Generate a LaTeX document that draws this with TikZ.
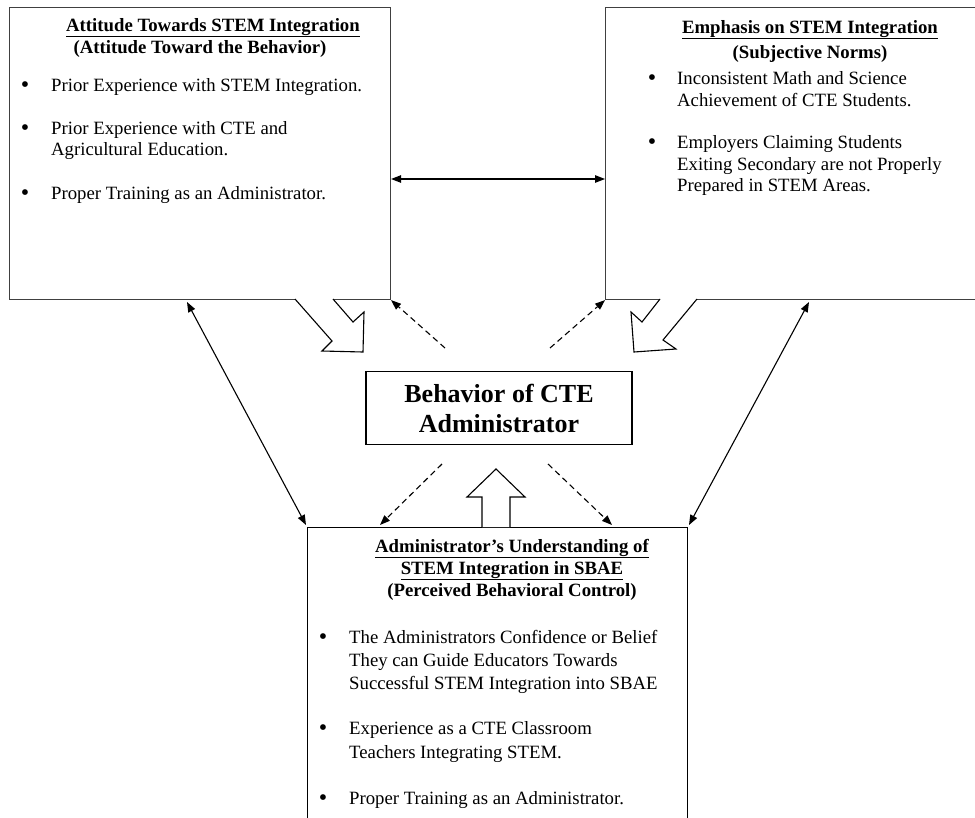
\documentclass[tikz,border=0pt]{standalone}
\usepackage{fontspec}
\setmainfont{Liberation Serif}
\usetikzlibrary{arrows.meta}
\begin{document}
\begin{tikzpicture}[x=1pt,y=-1pt,
  boxline/.style={draw=black!75, line width=1.1pt, inner sep=0pt, anchor=north west},
  ttl/.style={font=\bfseries\fontsize{18.75}{21.5}\selectfont, inner sep=0pt, anchor=base},
  txt/.style={font=\fontsize{18.75}{21.5}\selectfont, inner sep=0pt, anchor=base west},
  bul/.style={font=\fontsize{24}{24}\selectfont, inner sep=0pt, anchor=base},
  solidarrow/.style={line width=1.1pt, {Triangle[length=10pt,width=7.5pt]}-{Triangle[length=10pt,width=7.5pt]}},
  dasharrow/.style={line width=1.1pt, dash pattern=on 6pt off 4pt, -{Triangle[length=10pt,width=7.5pt]}},
  hollow/.style={draw=black, fill=white, line width=1.1pt, line join=miter}]
\useasboundingbox (0,0) rectangle (975,817);

% boxes
\node[boxline, minimum width=381pt, minimum height=292pt] (lbox) at (9,7) {};
\node[boxline, minimum width=372pt, minimum height=292pt] (rbox) at (605,7) {};
\node[boxline, draw=black, minimum width=380pt, minimum height=310pt] (bbox) at (307,527) {};
\node[draw=black, line width=1.1pt, minimum width=266pt, minimum height=73pt, inner sep=0pt,
      align=center, font=\bfseries\fontsize{26}{30}\selectfont] (cbox) at (499,408)
      {Behavior of CTE\\Administrator};

% left box text
\node[ttl] (l1) at (213,31) {\underline{Attitude Towards STEM Integration}};
\node[ttl] (l2) at (200,53) {(Attitude Toward the Behavior)};
\node[bul] (lb1) at (25,92) {•};
\node[txt] (lt1) at (51,91) {Prior Experience with STEM Integration.};
\node[bul] (lb2) at (25,135) {•};
\node[txt] (lt2) at (51,134) {Prior Experience with CTE and};
\node[txt] (lt2b) at (51,155) {Agricultural Education.};
\node[bul] (lb3) at (25,200) {•};
\node[txt] (lt3) at (51,199) {Proper Training as an Administrator.};

% right box text
\node[ttl] (r1) at (810,33) {\underline{Emphasis on STEM Integration}};
\node[ttl] (r2) at (810,58) {(Subjective Norms)};
\node[bul] (rb1) at (652,85) {•};
\node[txt] (rt1) at (677,84) {Inconsistent Math and Science};
\node[txt] (rt1b) at (677,106) {Achievement of CTE Students.};
\node[bul] (rb2) at (652,149) {•};
\node[txt] (rt2) at (677,148) {Employers Claiming Students};
\node[txt] (rt2b) at (677,170) {Exiting Secondary are not Properly};
\node[txt] (rt2c) at (677,191) {Prepared in STEM Areas.};

% bottom box text
\node[ttl] (b1) at (512,552) {\underline{Administrator’s Understanding of}};
\node[ttl] (b2) at (512,574) {\underline{STEM Integration in SBAE}};
\node[ttl] (b3) at (512,596) {(Perceived Behavioral Control)};
\node[bul] (bb1) at (323,644) {•};
\node[txt] (bt1) at (349,643) {The Administrators Confidence or Belief};
\node[txt] (bt1b) at (349,666) {They can Guide Educators Towards};
\node[txt] (bt1c) at (349,689) {Successful STEM Integration into SBAE};
\node[bul] (bb2) at (323,735) {•};
\node[txt] (bt2) at (349,734) {Experience as a CTE Classroom};
\node[txt] (bt2b) at (349,758) {Teachers Integrating STEM.};
\node[bul] (bb3) at (323,805) {•};
\node[txt] (bt3) at (349,804) {Proper Training as an Administrator.};

% connector end points
\coordinate (hl) at (lbox.east |- 0,179);
\coordinate (hr) at (rbox.west |- 0,179);
\coordinate (la) at (187,302);
\coordinate (lb) at (306,525);
\coordinate (ra) at (809,302);
\coordinate (rb) at (689,525);
\coordinate (d1) at (445,348);
\coordinate (d2) at (550,348);
\coordinate (d3) at (442,464);
\coordinate (d4) at (548,464);
\coordinate (d3e) at (380,525);
\coordinate (d4e) at (612,525);

% solid double arrows
\draw[solidarrow] (hl) -- (hr);
\draw[solidarrow] (la) -- (lb);
\draw[solidarrow] (ra) -- (rb);

% dashed arrows
\draw[dasharrow] (d1) -- (lbox.south east);
\draw[dasharrow] (d2) -- (rbox.south west);
\draw[dasharrow] (d3) -- (d3e);
\draw[dasharrow] (d4) -- (d4e);

% hollow block arrows
\draw[hollow] (295,299) -- (332,341) -- (322,351) -- (363,352) -- (364,312) -- (353,322) -- (333,299);
\draw[hollow] (660,299) -- (642,322) -- (631,312) -- (634,352) -- (676,349) -- (663,340) -- (697,299);
\draw[hollow] (482,527) -- (482,497) -- (467,497) -- (496,469) -- (525,497) -- (510,497) -- (510,527);
\end{tikzpicture}
\end{document}
